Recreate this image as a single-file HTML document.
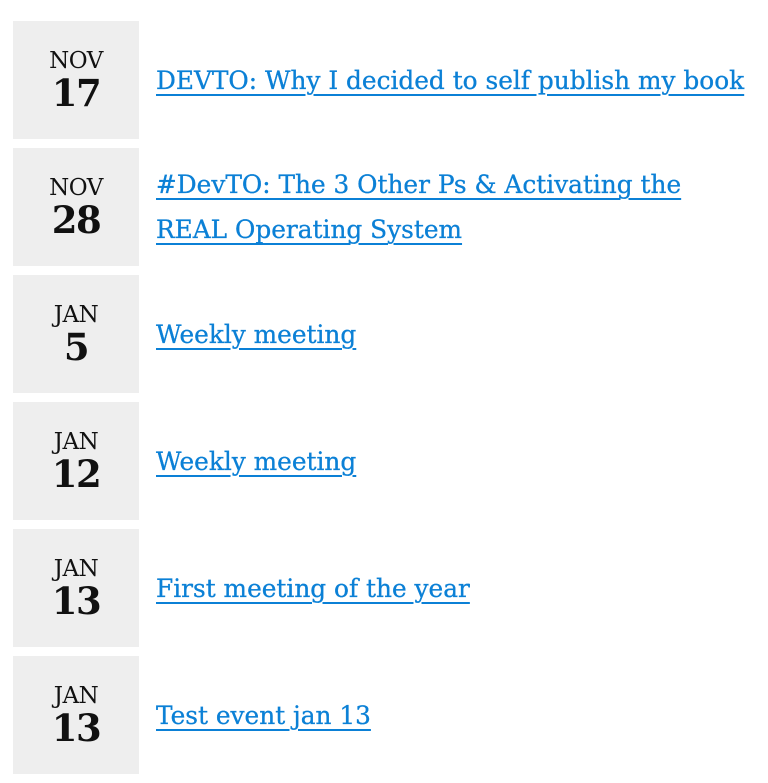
<!DOCTYPE html>
<html><head><meta charset="utf-8"><style>
html,body{margin:0;padding:0;background:#fff;width:768px;height:712px;overflow:hidden}
.list{position:absolute;left:13px;top:21px;width:750px}
.ev{display:flex;align-items:center;height:118px;margin-bottom:9px}
.date{width:126px;height:118px;background:#eeeeee;flex:none;display:flex;flex-direction:column;align-items:center;justify-content:center;font-family:"DejaVu Serif","Liberation Serif",serif;color:#111}
.mon{font-size:23px;line-height:25px;letter-spacing:-0.5px}
.day{font-size:37px;font-weight:bold;line-height:38px;letter-spacing:-1.5px}
.title{margin-left:17px;font-family:"DejaVu Serif","Liberation Serif",serif;font-size:24.8px;line-height:45px;color:#0b80d6;text-decoration:underline;text-decoration-thickness:2px;text-underline-offset:5px;-webkit-text-stroke:0.3px #0b80d6;white-space:nowrap}
</style></head><body>
<div class="list">
<div class="ev"><div class="date"><div class="mon">NOV</div><div class="day">17</div></div><a class="title">DEVTO: Why I decided to self publish my book</a></div>
<div class="ev"><div class="date"><div class="mon">NOV</div><div class="day">28</div></div><a class="title">#DevTO: The 3 Other Ps &amp; Activating the<br>REAL Operating System</a></div>
<div class="ev"><div class="date"><div class="mon">JAN</div><div class="day">5</div></div><a class="title">Weekly meeting</a></div>
<div class="ev"><div class="date"><div class="mon">JAN</div><div class="day">12</div></div><a class="title">Weekly meeting</a></div>
<div class="ev"><div class="date"><div class="mon">JAN</div><div class="day">13</div></div><a class="title">First meeting of the year</a></div>
<div class="ev"><div class="date"><div class="mon">JAN</div><div class="day">13</div></div><a class="title">Test event jan 13</a></div>
</div>
</body></html>
